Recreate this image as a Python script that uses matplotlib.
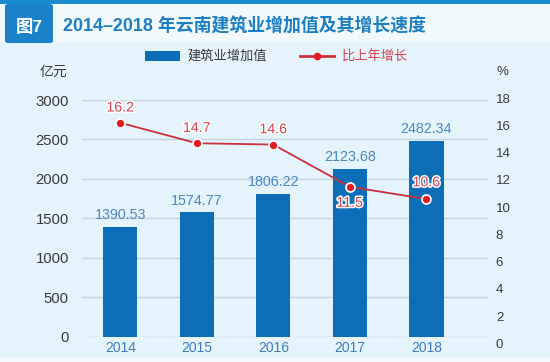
import matplotlib
matplotlib.use("Agg")
import matplotlib.pyplot as plt
import matplotlib.patheffects as pe
from matplotlib.patches import FancyBboxPatch, Rectangle
from matplotlib.lines import Line2D

# ─── Data ────────────────────────────────────────────────────────────────────
years = ["2014", "2015", "2016", "2017", "2018"]
added_value = [1390.53, 1574.77, 1806.22, 2123.68, 2482.34]   # 亿元
growth = [16.2, 14.7, 14.6, 11.5, 10.6]                      # %
growth_labels = ["16.2", "14.7", "14.6", "11.5", "10.6"]
left_ticks = [0, 500, 1000, 1500, 2000, 2500, 3000]
right_ticks = [0, 2, 4, 6, 8, 10, 12, 14, 16, 18]

title = "2014–2018 年云南建筑业增加值及其增长速度"
fig_tag = "图7"
bar_name = "建筑业增加值"
line_name = "比上年增长"

# ─── Style ───────────────────────────────────────────────────────────────────
FONT = ["Liberation Sans", "Noto Sans CJK SC", "DejaVu Sans"]
plt.rcParams["font.family"] = FONT

BG = "#e5f4fc"
BAR = "#0b6eb7"
BLUE_TXT = "#4a86bf"
YEAR_TXT = "#3d7dbd"
GRID = "#c6d3dc"
LINE = "#c9303b"
DOT = "#e31b23"
RED_TXT = "#d6404c"
TICK_TXT = "#3a3a3a"

W, H = 550, 362
fig = plt.figure(figsize=(W / 100, H / 100), dpi=100)
fig.patch.set_facecolor(BG)


def px(x, y):
    """pixel (from top-left) -> figure fraction"""
    return x / W, 1 - y / H


# ─── Header ──────────────────────────────────────────────────────────────────
fig.patches.append(Rectangle(px(0, 42), 1, 38 / H, transform=fig.transFigure,
                             facecolor="#f1f9fd", edgecolor="none", zorder=0))
fig.patches.append(Rectangle(px(0, 4), 1, 4 / H, transform=fig.transFigure,
                             facecolor="#1b8bd0", edgecolor="none", zorder=1))
fig.patches.append(FancyBboxPatch(px(5, 43), 48 / W, 39 / H,
                                  boxstyle="round,pad=0,rounding_size=0.006",
                                  transform=fig.transFigure,
                                  facecolor="#1a82c8", edgecolor="none", zorder=2))
fig.text(*px(29, 27), fig_tag, color="white", fontsize=12.5, fontweight="bold",
         ha="center", va="center", zorder=3)
fig.text(*px(63, 27), title, color="#1d7ec2", fontsize=12.9, fontweight="bold",
         ha="left", va="center")
fig.patches.append(Rectangle(px(0, 362), 1, 4 / H, transform=fig.transFigure,
                             facecolor="#f4fafd", edgecolor="none", zorder=0))

# ─── Legend ──────────────────────────────────────────────────────────────────
fig.patches.append(Rectangle(px(145, 61), 35 / W, 10 / H, transform=fig.transFigure,
                             facecolor=BAR, edgecolor="none"))
fig.text(*px(187, 56), bar_name, color="#3a3a3a", fontsize=9.5,
         ha="left", va="center")
lx0, ly = px(300, 56)
lx1, _ = px(334, 56)
fig.lines.append(Line2D([lx0, lx1], [ly, ly], transform=fig.transFigure,
                        color=LINE, lw=2))
fig.lines.append(Line2D([(lx0 + lx1) / 2], [ly], transform=fig.transFigure,
                        marker="o", ms=4.5, color=DOT, mec=DOT))
fig.text(*px(342, 56), line_name, color=RED_TXT, fontsize=9.5,
         ha="left", va="center")

# ─── Bars (left axis) ────────────────────────────────────────────────────────
x = list(range(len(years)))
ax1 = fig.add_axes([82 / W, 1 - 336.7 / H, 405.5 / W, 236.7 / H])
ax1.set_facecolor("none")
ax1.bar(x, added_value, width=0.45, color=BAR, zorder=2)
ax1.set_xlim(-0.5, 4.8)
ax1.set_ylim(0, 3000)
ax1.set_yticks(left_ticks)
ax1.set_xticks(x, years)
ax1.yaxis.grid(True, color=GRID, lw=1)
ax1.set_axisbelow(True)
for sp in ax1.spines.values():
    sp.set_visible(False)
ax1.tick_params(axis="y", length=0, pad=9.4, labelsize=10.7, labelcolor=TICK_TXT)
ax1.tick_params(axis="x", length=0, pad=3, labelsize=10, labelcolor=YEAR_TXT)
for xi, v in zip(x, added_value):
    ax1.annotate(f"{v:.2f}", (xi, v), xytext=(0, 8.5), textcoords="offset points",
                 ha="center", va="center", fontsize=10.3, color=BLUE_TXT, zorder=3)
fig.text(*px(53, 72), "亿元", color=TICK_TXT, fontsize=10, ha="center", va="center")

# ─── Growth line (right axis) ────────────────────────────────────────────────
ax2 = fig.add_axes([82 / W, 1 - 343.3 / H, 405.5 / W, 245 / H])
ax2.patch.set_visible(False)
ax2.set_xlim(-0.5, 4.8)
ax2.set_ylim(0, 18)
ax2.set_xticks([])
ax2.yaxis.tick_right()
ax2.set_yticks(right_ticks)
for sp in ax2.spines.values():
    sp.set_visible(False)
ax2.tick_params(axis="y", length=0, pad=6, labelsize=9.5, labelcolor=TICK_TXT)
ax2.plot(x, growth, color=LINE, lw=1.3, marker="o", ms=6.5,
         mfc=DOT, mec="white", mew=1.2, zorder=4, clip_on=False)
offsets = [11, 11, 11, -11.5, 12]
stroke = [pe.withStroke(linewidth=2.2, foreground="white")]
for xi, g, lab, dy in zip(x, growth, growth_labels, offsets):
    ax2.annotate(lab, (xi, g), xytext=(0, dy), textcoords="offset points",
                 ha="center", va="center", fontsize=10.2, color=RED_TXT,
                 path_effects=stroke, zorder=5)
fig.text(*px(502, 72), "%", color=TICK_TXT, fontsize=9.5, ha="center", va="center")

fig.savefig("out.png", dpi=100, facecolor=fig.get_facecolor())
